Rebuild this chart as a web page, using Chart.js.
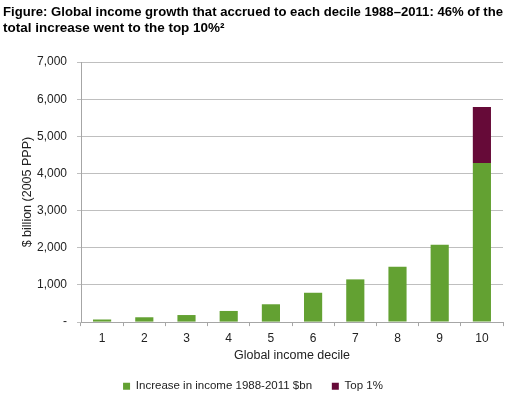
<!DOCTYPE html>
<html>
<head>
<meta charset="utf-8">
<script src="https://cdn.jsdelivr.net/npm/chart.js@4.4.0/dist/chart.umd.min.js"></script>
<style>
  html, body { margin: 0; padding: 0; background: #fff; }
  #wrap { width: 510px; height: 398px; }
</style>
</head>
<body>
<div id="wrap"><canvas id="myChart"></canvas></div>
<script>
// deciles and values ($ billion, 2005 PPP)
const deciles = ['1', '2', '3', '4', '5', '6', '7', '8', '9', '10'];
const increase = [70, 130, 190, 300, 480, 790, 1150, 1490, 2080, 4280];
const top1 = [null, null, null, null, null, null, null, null, null, 1510];
const yTicks = [0, 1000, 2000, 3000, 4000, 5000, 6000, 7000];

const ctx = document.getElementById('myChart');

new Chart(ctx, {
    type: 'bar',
    data: {
        labels: deciles,
        datasets: [{
            label: 'Increase in income 1988-2011 $bn    ',
            data: increase,
            backgroundColor: '#63a132',
            barPercentage: 0.43,
            categoryPercentage: 1
        }, {
            label: 'Top 1%',
            data: top1,
            backgroundColor: '#660a38',
            barPercentage: 0.43,
            categoryPercentage: 1
        }]
    },
    options: {
        responsive: true,
        maintainAspectRatio: false,
        animation: false,
        layout: { padding: { left: 3, right: 7, top: 4, bottom: -4 } },
        scales: {
            x: {
                stacked: true,
                grid: { drawOnChartArea: false, offset: true, tickLength: 4, color: '#a6a6a6' },
                border: { color: '#a6a6a6' },
                ticks: { color: '#222', font: { family: 'Liberation Sans', size: 12 }, padding: 5 },
                title: { display: true, text: 'Global income decile', color: '#222',
                         font: { family: 'Liberation Sans', size: 12.5 }, padding: { top: -2, bottom: 10 } }
            },
            y: {
                stacked: true,
                min: 0,
                max: 7000,
                afterBuildTicks: (axis) => { axis.ticks = yTicks.map(v => ({ value: v })); },
                afterFit: (axis) => { axis.width = 78; },
                grid: { color: '#bfbfbf', tickLength: 4 },
                border: { color: '#a6a6a6' },
                ticks: {
                    color: '#222',
                    font: { family: 'Liberation Sans', size: 12 },
                    padding: 10,
                    callback: (v) => v === 0 ? '-' : v.toLocaleString('en-US')
                },
                title: { display: true, text: '$ billion (2005 PPP)', color: '#222',
                         font: { family: 'Liberation Sans', size: 12.5 }, padding: { top: 17, bottom: 0 } }
            }
        },
        plugins: {
            title: {
                display: true,
                align: 'start',
                text: ['Figure: Global income growth that accrued to each decile 1988–2011: 46% of the',
                       'total increase went to the top 10%²'],
                color: '#000',
                font: { family: 'Liberation Sans', size: 13.48, weight: 'bold', lineHeight: 1.19 },
                padding: { top: 0, bottom: 26 }
            },
            legend: {
                position: 'bottom',
                labels: {
                    color: '#222',
                    boxWidth: 7,
                    boxHeight: 7,
                    padding: 7,
                    font: { family: 'Liberation Sans', size: 11.5 }
                }
            },
            tooltip: { enabled: false }
        }
    }
});
</script>
</body>
</html>
